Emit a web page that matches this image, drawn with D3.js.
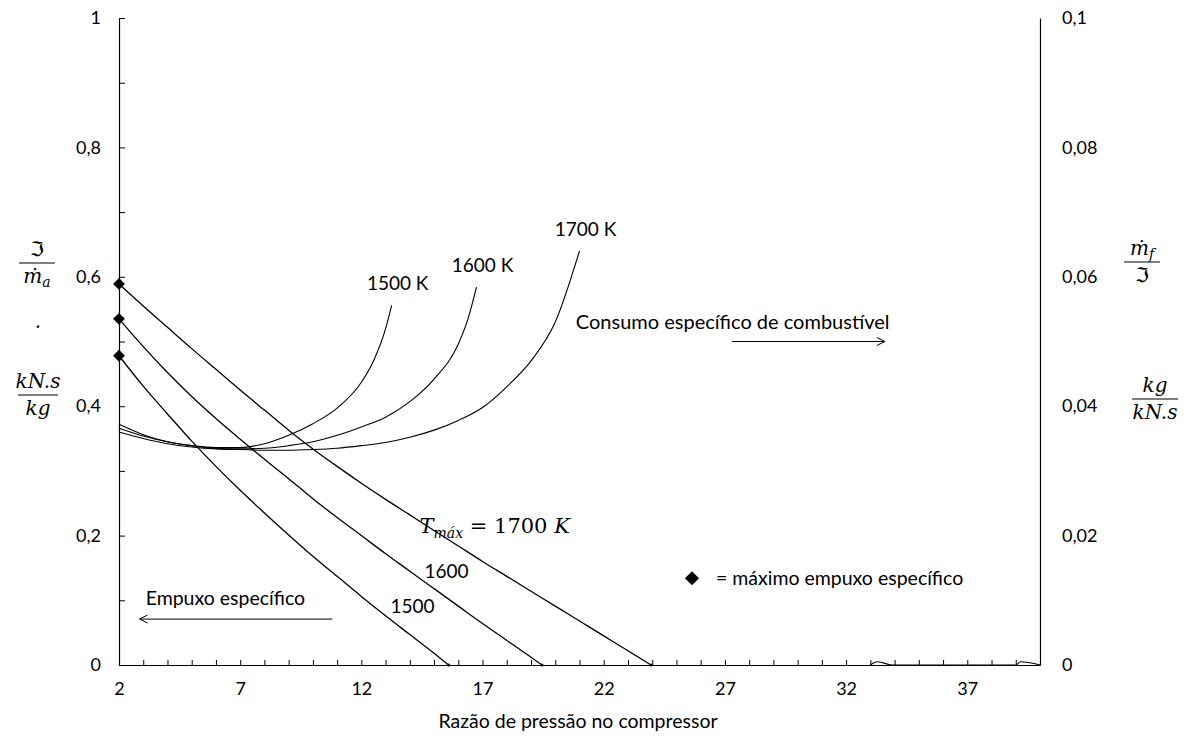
<!DOCTYPE html>
<html>
<head>
<meta charset="utf-8">
<script src="https://cdn.jsdelivr.net/npm/d3@7"></script>
<style>
    body { margin: 0; background: #fff; }
    svg text { font-family: Lato, "Open Sans", sans-serif; fill: #000; }
    svg .math { font-family: "DejaVu Serif", "Liberation Serif", serif; font-style: italic; }
    svg .frak { font-family: "DejaVu Sans", "DejaVu Serif", serif; font-style: normal; }
</style>
</head>
<body>
<div id="chart"></div>
<script>
// x axis: compressor pressure ratio
const xTicks = d3.range(2, 41);
const xLabels = [2, 7, 12, 17, 22, 27, 32, 37];
// left axis: specific thrust (kN.s/kg)
const leftTicks = d3.range(0, 11).map(i => i / 10);
const leftLabels = [0, 0.2, 0.4, 0.6, 0.8, 1];
// right axis: specific fuel consumption (kg/kN.s)
const rightLabels = [0, 0.02, 0.04, 0.06, 0.08, 0.1];

// specific thrust curves [pressure ratio, value]
const thrust1500 = [[2,0.478],[3,0.431],[4,0.388],[5,0.346],[6,0.307],[7,0.270],[8,0.235],[9,0.201],[10,0.168],
    [11,0.137],[12,0.106],[13,0.076],[14,0.047],[15,0.018],[15.6,0]];
const thrust1600 = [[2,0.535],[3,0.492],[4,0.452],[5,0.415],[6,0.381],[7,0.349],[8,0.318],[9,0.288],[10,0.257],
    [11,0.228],[12,0.200],[13,0.172],[14,0.145],[15,0.118],[16,0.091],[17,0.064],[18,0.038],[19,0.012],[19.45,0]];
const thrust1700 = [[2,0.589],[3,0.555],[4,0.522],[5,0.489],[6,0.457],[7,0.425],[8,0.394],[9,0.363],[10,0.334],
    [11,0.307],[12,0.281],[13,0.256],[14,0.232],[15,0.208],[16,0.184],[17,0.160],[18,0.137],[19,0.114],[20,0.091],
    [21,0.068],[22,0.045],[23,0.022],[23.95,0]];

// specific fuel consumption curves [pressure ratio, value]
const sfc1500 = [[2,0.0372],[3,0.0356],[4,0.0345],[5,0.0339],[6,0.0336],[7,0.0336],[8,0.0342],[9,0.0355],
    [10,0.0373],[11,0.0397],[12,0.0437],[12.5,0.0470],[13,0.0520],[13.25,0.0556]];
const sfc1600 = [[2,0.0366],[3,0.0354],[4,0.0345],[5,0.0339],[6,0.0335],[7,0.0334],[8,0.0335],[9,0.0339],
    [10,0.0345],[11,0.0355],[12,0.0368],[13,0.0383],[14,0.0407],[15,0.0442],[16,0.0496],[16.4,0.0535],[16.75,0.0584]];
const sfc1700 = [[2,0.0360],[3,0.0350],[4,0.0342],[5,0.0337],[6,0.0334],[7,0.0333],[8,0.0332],[9,0.0332],
    [10,0.0333],[11,0.0335],[12,0.0339],[13,0.0344],[14,0.0352],[15,0.0363],[16,0.0378],[17,0.0398],[18,0.0430],
    [19,0.0470],[20,0.0530],[21,0.0640]];
// leftover near-zero values at high pressure ratio
const sfcResidual = [[33,0],[33.3,0.0005],[33.9,0],[39,0],[39.2,0.0005],[40,0]];

const thrustSeries = [thrust1500, thrust1600, thrust1700];
const sfcSeries = [sfc1500, sfc1600, sfc1700];
const sfcNames = ["1500 K", "1600 K", "1700 K"];

window.onload = function () {
    drawChart();
};

function drawChart() {
    let width = 1184, height = 738;
    let plot = {left: 119, right: 1040, top: 18, bottom: 665};

    let svg = d3.select("#chart")
        .append("svg")
        .attr("width", width)
        .attr("height", height);

    let x = d3.scaleLinear().domain([2, 40]).range([plot.left, plot.right]);
    let yL = d3.scaleLinear().domain([0, 1]).range([plot.bottom, plot.top]);
    let yR = d3.scaleLinear().domain([0, 0.1]).range([plot.bottom, plot.top]);

    let locale = d3.formatLocale({decimal: ",", thousands: ".", grouping: [3], currency: ["", ""]});
    let fmt = locale.format("~g");

    // arrow head
    svg.append("defs").append("marker")
        .attr("id", "arrow")
        .attr("viewBox", "0 0 10 10")
        .attr("refX", 9).attr("refY", 5)
        .attr("markerWidth", 10).attr("markerHeight", 10)
        .attr("markerUnits", "userSpaceOnUse")
        .attr("orient", "auto")
        .append("path")
        .attr("d", "M1,1 L9,5 L1,9")
        .attr("fill", "none")
        .attr("stroke", "black")
        .attr("stroke-width", 1);

    // bottom axis
    let xAxis = svg.append("g")
        .attr("transform", "translate(0," + plot.bottom + ")")
        .call(d3.axisBottom(x)
            .tickValues(xTicks)
            .tickSizeInner(-5)
            .tickSizeOuter(0)
            .tickPadding(17)
            .tickFormat(d => xLabels.includes(d) ? d : ""));

    // left axis
    let leftAxis = svg.append("g")
        .attr("transform", "translate(" + plot.left + ",0)")
        .call(d3.axisLeft(yL)
            .tickValues(leftTicks)
            .tickSizeInner(-6)
            .tickSizeOuter(0)
            .tickPadding(18)
            .tickFormat(d => leftLabels.some(v => Math.abs(v - d) < 1e-9) ? fmt(d) : ""));

    // right axis
    let rightAxis = svg.append("g")
        .attr("transform", "translate(" + plot.right + ",0)")
        .call(d3.axisRight(yR)
            .tickValues(rightLabels)
            .tickSize(0)
            .tickPadding(22)
            .tickFormat(fmt));

    [xAxis, leftAxis, rightAxis].forEach(function (a) {
        a.select(".domain").attr("stroke", "black").attr("stroke-width", 1.2);
        a.selectAll(".tick line").attr("stroke", "black");
        a.selectAll("text").style("font-size", "18px").attr("fill", "black");
    });

    // lines
    let lineL = d3.line().x(d => x(d[0])).y(d => yL(d[1])).curve(d3.curveMonotoneX);
    let lineR = d3.line().x(d => x(d[0])).y(d => yR(d[1])).curve(d3.curveMonotoneX);

    svg.selectAll("thrustLines")
        .data(thrustSeries)
        .enter()
        .append("path")
        .attr("d", lineL)
        .attr("fill", "none")
        .attr("stroke", "black")
        .attr("stroke-width", 1.3);

    svg.selectAll("sfcLines")
        .data(sfcSeries)
        .enter()
        .append("path")
        .attr("d", lineR)
        .attr("fill", "none")
        .attr("stroke", "black")
        .attr("stroke-width", 1.1);

    svg.append("path")
        .attr("d", lineR(sfcResidual))
        .attr("fill", "none")
        .attr("stroke", "black")
        .attr("stroke-width", 1.1);

    // maximum specific thrust markers
    let diamond = d3.symbol().type(d3.symbolSquare).size(70);
    svg.selectAll("maxMarks")
        .data(thrustSeries)
        .enter()
        .append("path")
        .attr("d", diamond)
        .attr("transform", d => "translate(" + x(d[0][0]) + "," + yL(d[0][1]) + ") rotate(45)")
        .attr("fill", "black");

    // small end points on zero line
    svg.selectAll("endMarks")
        .data(thrustSeries)
        .enter()
        .append("circle")
        .attr("cx", d => x(d[d.length - 1][0]))
        .attr("cy", d => yL(d[d.length - 1][1]))
        .attr("r", 1.5)
        .attr("fill", "black");

    // SFC temperature labels
    svg.selectAll("sfcLabels")
        .data(sfcSeries)
        .enter()
        .append("text")
        .attr("x", d => x(d[d.length - 1][0]) + 6)
        .attr("y", d => yR(d[d.length - 1][1]) - 15)
        .attr("text-anchor", "middle")
        .style("font-size", "19px")
        .text((d, i) => sfcNames[i]);

    // annotations
    svg.append("text")
        .attr("x", x(20.85)).attr("y", yR(0.053))
        .attr("dy", "0.35em")
        .style("font-size", "20px")
        .text("Consumo específico de combustível");
    svg.append("line")
        .attr("x1", x(27.3)).attr("y1", yR(0.050))
        .attr("x2", x(33.6)).attr("y2", yR(0.050))
        .attr("stroke", "black")
        .attr("marker-end", "url(#arrow)");

    svg.append("text")
        .attr("x", x(3.1)).attr("y", yL(0.104))
        .attr("dy", "0.35em")
        .style("font-size", "19.5px")
        .text("Empuxo específico");
    svg.append("line")
        .attr("x1", x(10.8)).attr("y1", yL(0.071))
        .attr("x2", x(2.85)).attr("y2", yL(0.071))
        .attr("stroke", "black")
        .attr("marker-end", "url(#arrow)");

    let tmax = svg.append("text")
        .attr("class", "math")
        .attr("x", x(14.4)).attr("y", yL(0.215))
        .attr("dy", "0.35em")
        .style("font-size", "21px");
    tmax.append("tspan").text("T");
    tmax.append("tspan").attr("dy", 5).style("font-size", "14px").text("máx");
    tmax.append("tspan").attr("dy", -5).style("font-style", "normal").text(" = 1700 ");
    tmax.append("tspan").text("K");

    svg.append("text")
        .attr("x", x(14.6)).attr("y", yL(0.145))
        .attr("dy", "0.35em")
        .style("font-size", "19px")
        .text("1600");
    svg.append("text")
        .attr("x", x(13.2)).attr("y", yL(0.090))
        .attr("dy", "0.35em")
        .style("font-size", "19px")
        .text("1500");

    // legend
    svg.append("path")
        .attr("d", d3.symbol().type(d3.symbolSquare).size(100))
        .attr("transform", "translate(" + x(25.64) + "," + yL(0.134) + ") rotate(45)")
        .attr("fill", "black");
    svg.append("text")
        .attr("x", x(26.63)).attr("y", yL(0.134))
        .attr("dy", "0.35em")
        .style("font-size", "19.5px")
        .text("= máximo empuxo específico");

    // x axis title
    svg.append("text")
        .attr("x", 578).attr("y", 721)
        .attr("dy", "0.35em")
        .attr("text-anchor", "middle")
        .style("font-size", "19.5px")
        .text("Razão de pressão no compressor");

    // axis unit fractions
    function fraction(cx, cy, num, den, w) {
        let g = svg.append("g").attr("transform", "translate(" + cx + "," + cy + ")");
        g.append("line").attr("x1", -w / 2).attr("x2", w / 2).attr("stroke", "black").attr("stroke-width", 1.2);
        let t1 = g.append("text").attr("class", "math").attr("text-anchor", "middle").attr("y", -7).style("font-size", "20px");
        num.forEach(p => t1.append("tspan").attr("class", p.cls || null).attr("dy", p.dy || 0).style("font-size", p.size || null).text(p.t));
        let t2 = g.append("text").attr("class", "math").attr("text-anchor", "middle").attr("y", 20).style("font-size", "20px");
        den.forEach(p => t2.append("tspan").attr("class", p.cls || null).attr("dy", p.dy || 0).style("font-size", p.size || null).text(p.t));
    }

    fraction(37, 263, [{t: "ℑ", cls: "frak"}], [{t: "ṁ"}, {t: "a", dy: 4, size: "14px"}], 36);
    svg.append("text").attr("class", "math").attr("x", 38).attr("y", 328)
        .attr("text-anchor", "middle").style("font-size", "20px").text(".");
    fraction(38, 395, [{t: "kN.s"}], [{t: "kg"}], 40);

    fraction(1142, 262, [{t: "ṁ"}, {t: "f", dy: 4, size: "14px"}], [{t: "ℑ", cls: "frak"}], 36);
    fraction(1155, 399, [{t: "kg"}], [{t: "kN.s"}], 46);
}
</script>
</body>
</html>
